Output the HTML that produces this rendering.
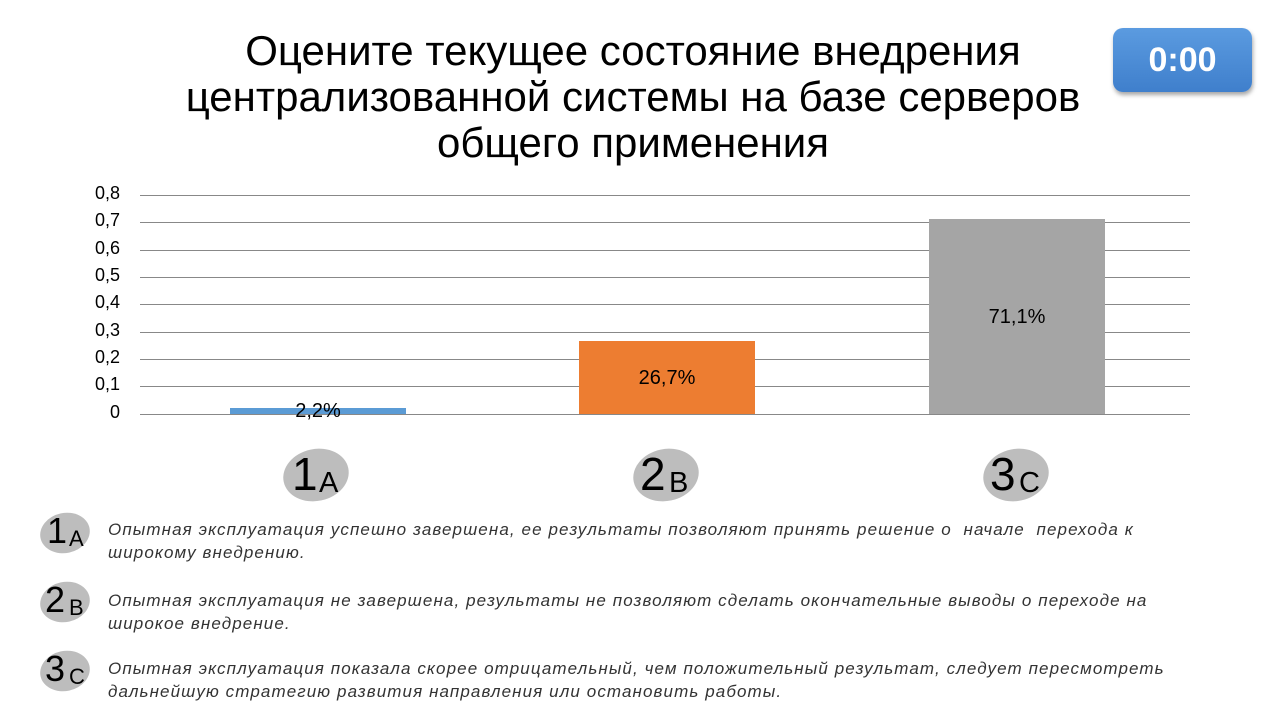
<!DOCTYPE html>
<html><head><meta charset="utf-8"><style>
body{margin:0;width:1280px;height:720px;background:#fff;position:relative;overflow:hidden;font-family:"Liberation Sans",sans-serif}
.t{position:absolute;left:80px;width:1106px;top:28px;text-align:center;font-size:42px;line-height:46px;color:#000}
.timer{position:absolute;left:1113px;top:28px;width:139px;height:64px;border-radius:10px;background:linear-gradient(#5b9be0,#3f7fcc);box-shadow:1px 3px 4px rgba(0,0,0,.35);color:#fff;font-weight:bold;font-size:34px;text-align:center;line-height:64px}
.g{position:absolute;left:140px;width:1050px;height:1px;background:#888}
.yl{position:absolute;left:60px;width:60px;text-align:right;font-size:18px;color:#000}
.bar{position:absolute;width:176px}
.bl{position:absolute;width:176px;text-align:center;font-size:20px;color:#000}
.w{position:absolute;color:#000}
.el{position:absolute;left:0;top:0;width:100%;height:100%;border-radius:50%;background:#bdbdbd;transform:rotate(-12deg)}
.w span{position:absolute}
.d{position:absolute;left:108px;width:1160px;font-style:italic;font-size:17px;line-height:23px;color:#333;letter-spacing:1.1px}
</style></head><body>
<div class="t">Оцените текущее состояние внедрения<br>централизованной системы на базе серверов<br>общего применения</div>
<div class="timer">0:00</div>
<div class="g" style="top:195px"></div><div class="g" style="top:222px"></div><div class="g" style="top:250px"></div><div class="g" style="top:277px"></div><div class="g" style="top:304px"></div><div class="g" style="top:332px"></div><div class="g" style="top:359px"></div><div class="g" style="top:386px"></div><div class="g" style="top:414px"></div>
<div class="yl" style="top:183px">0,8</div><div class="yl" style="top:210px">0,7</div><div class="yl" style="top:238px">0,6</div><div class="yl" style="top:265px">0,5</div><div class="yl" style="top:292px">0,4</div><div class="yl" style="top:320px">0,3</div><div class="yl" style="top:347px">0,2</div><div class="yl" style="top:374px">0,1</div><div class="yl" style="top:402px">0</div>
<div class="bar" style="left:230px;top:408px;height:6px;background:#5b9bd5"></div>
<div class="bar" style="left:579px;top:341px;height:73px;background:#ed7d31"></div>
<div class="bar" style="left:929px;top:219px;height:195px;background:#a5a5a5"></div>
<div class="bl" style="left:230px;top:400px">2,2%</div>
<div class="bl" style="left:579px;top:367px">26,7%</div>
<div class="bl" style="left:929px;top:306px">71,1%</div>

<div class="w" style="left:283px;top:449px;width:66px;height:52px"><div class="el"></div><span style="left:9px;top:-2px;font-size:46px">1</span><span style="left:36px;top:18px;font-size:29px">A</span></div>
<div class="w" style="left:633px;top:449px;width:66px;height:52px"><div class="el"></div><span style="left:7px;top:-2px;font-size:46px">2</span><span style="left:36px;top:18px;font-size:29px">B</span></div>
<div class="w" style="left:983px;top:449px;width:66px;height:52px"><div class="el"></div><span style="left:7px;top:-2px;font-size:46px">3</span><span style="left:36px;top:18px;font-size:29px">C</span></div>

<div class="w" style="left:40px;top:513px;width:50px;height:40px"><div class="el"></div><span style="left:7px;top:-3px;font-size:36px">1</span><span style="left:29px;top:13px;font-size:22px">A</span></div>
<div class="w" style="left:40px;top:582px;width:50px;height:40px"><div class="el"></div><span style="left:5px;top:-3px;font-size:36px">2</span><span style="left:29px;top:13px;font-size:22px">B</span></div>
<div class="w" style="left:40px;top:651px;width:50px;height:40px"><div class="el"></div><span style="left:5px;top:-3px;font-size:36px">3</span><span style="left:29px;top:13px;font-size:22px">C</span></div>

<div class="d" style="top:518px">Опытная эксплуатация успешно завершена, ее результаты позволяют принять решение о&nbsp; начале&nbsp; перехода к<br>широкому внедрению.</div>
<div class="d" style="top:589px">Опытная эксплуатация не завершена, результаты не позволяют сделать окончательные выводы о переходе на<br>широкое внедрение.</div>
<div class="d" style="top:657px">Опытная эксплуатация показала скорее отрицательный, чем положительный результат, следует пересмотреть<br>дальнейшую стратегию развития направления или остановить работы.</div>
</body></html>
